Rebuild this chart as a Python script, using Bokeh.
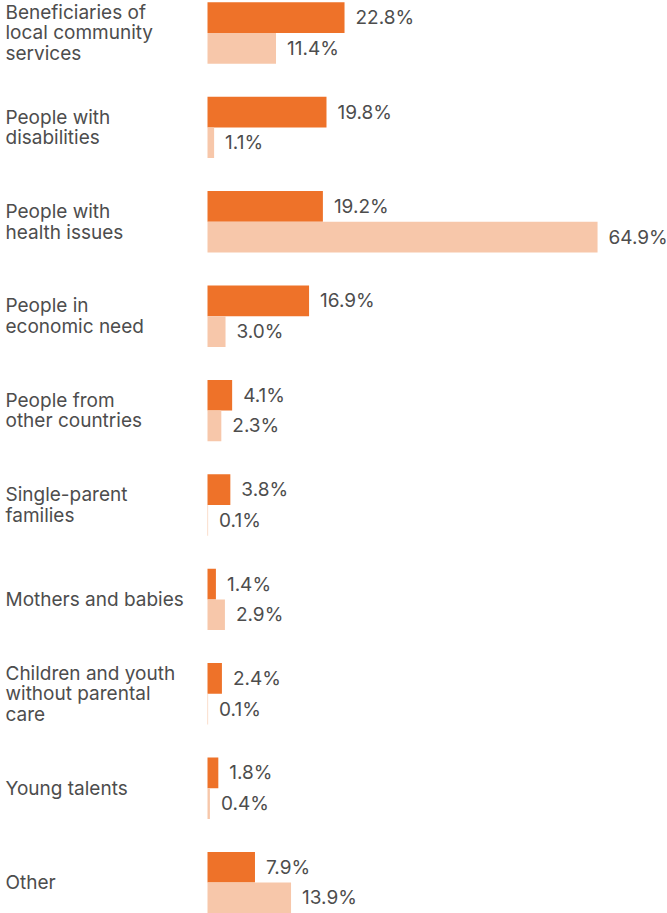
from bokeh.plotting import figure
from bokeh.models import ColumnDataSource, Range1d
from bokeh.embed import file_html
from bokeh.resources import INLINE
from bokeh.core.properties import value

categories = [
    "Beneficiaries of\nlocal community\nservices",
    "People with\ndisabilities",
    "People with\nhealth issues",
    "People in\neconomic need",
    "People from\nother countries",
    "Single-parent\nfamilies",
    "Mothers and babies",
    "Children and youth\nwithout parental\ncare",
    "Young talents",
    "Other",
]
series_a = [22.8, 19.8, 19.2, 16.9, 4.1, 3.8, 1.4, 2.4, 1.8, 7.9]
series_b = [11.4, 1.1, 64.9, 3.0, 2.3, 0.1, 2.9, 0.1, 0.4, 13.9]

DARK = "#EE7229"
LIGHT = "#F7C7AA"
TEXT = "#4D4D4D"
FONT = "Inter"

W, H = 667, 913
x0_px = 207.0
px_per = 6.01
spacing = 94.4
center0 = 32.5
bar_h = 30.7 / spacing

idx = list(range(len(categories)))
ya = [i - bar_h / 2 for i in idx]
yb = [i + bar_h / 2 for i in idx]

src = ColumnDataSource(dict(
    cat=categories, a=series_a, b=series_b, idx=idx, ya=ya, yb=yb,
    la=[f"{v:.1f}%" for v in series_a], lb=[f"{v:.1f}%" for v in series_b],
    zero=[0.0] * len(idx),
))

x_start = -x0_px / px_per
x_end = (W - x0_px) / px_per
y_start = (H - center0) / spacing
y_end = -center0 / spacing

p = figure(width=W, height=H, output_backend="svg", toolbar_location=None,
           x_range=Range1d(x_start, x_end), y_range=Range1d(y_start, y_end),
           min_border=0, outline_line_color=None)
p.axis.visible = False
p.grid.visible = False

p.hbar(y="ya", left="zero", right="a", height=bar_h, source=src,
       fill_color=DARK, line_color=None)
p.hbar(y="yb", left="zero", right="b", height=bar_h, source=src,
       fill_color=LIGHT, line_color=None)

p.text(x="a", y="ya", text="la", source=src, x_offset=11,
       text_font=value(FONT), text_font_size="19px", text_color=TEXT,
       text_baseline="middle", text_align="left")
p.text(x="b", y="yb", text="lb", source=src, x_offset=11,
       text_font=value(FONT), text_font_size="19px", text_color=TEXT,
       text_baseline="middle", text_align="left")

p.text(x=x_start + 5 / px_per, y="idx", text="cat", source=src,
       text_font=value(FONT), text_font_size="19px", text_color=TEXT,
       text_baseline="middle", text_align="left", text_line_height=0.89)

open("out.html", "w").write(file_html(p, INLINE))
